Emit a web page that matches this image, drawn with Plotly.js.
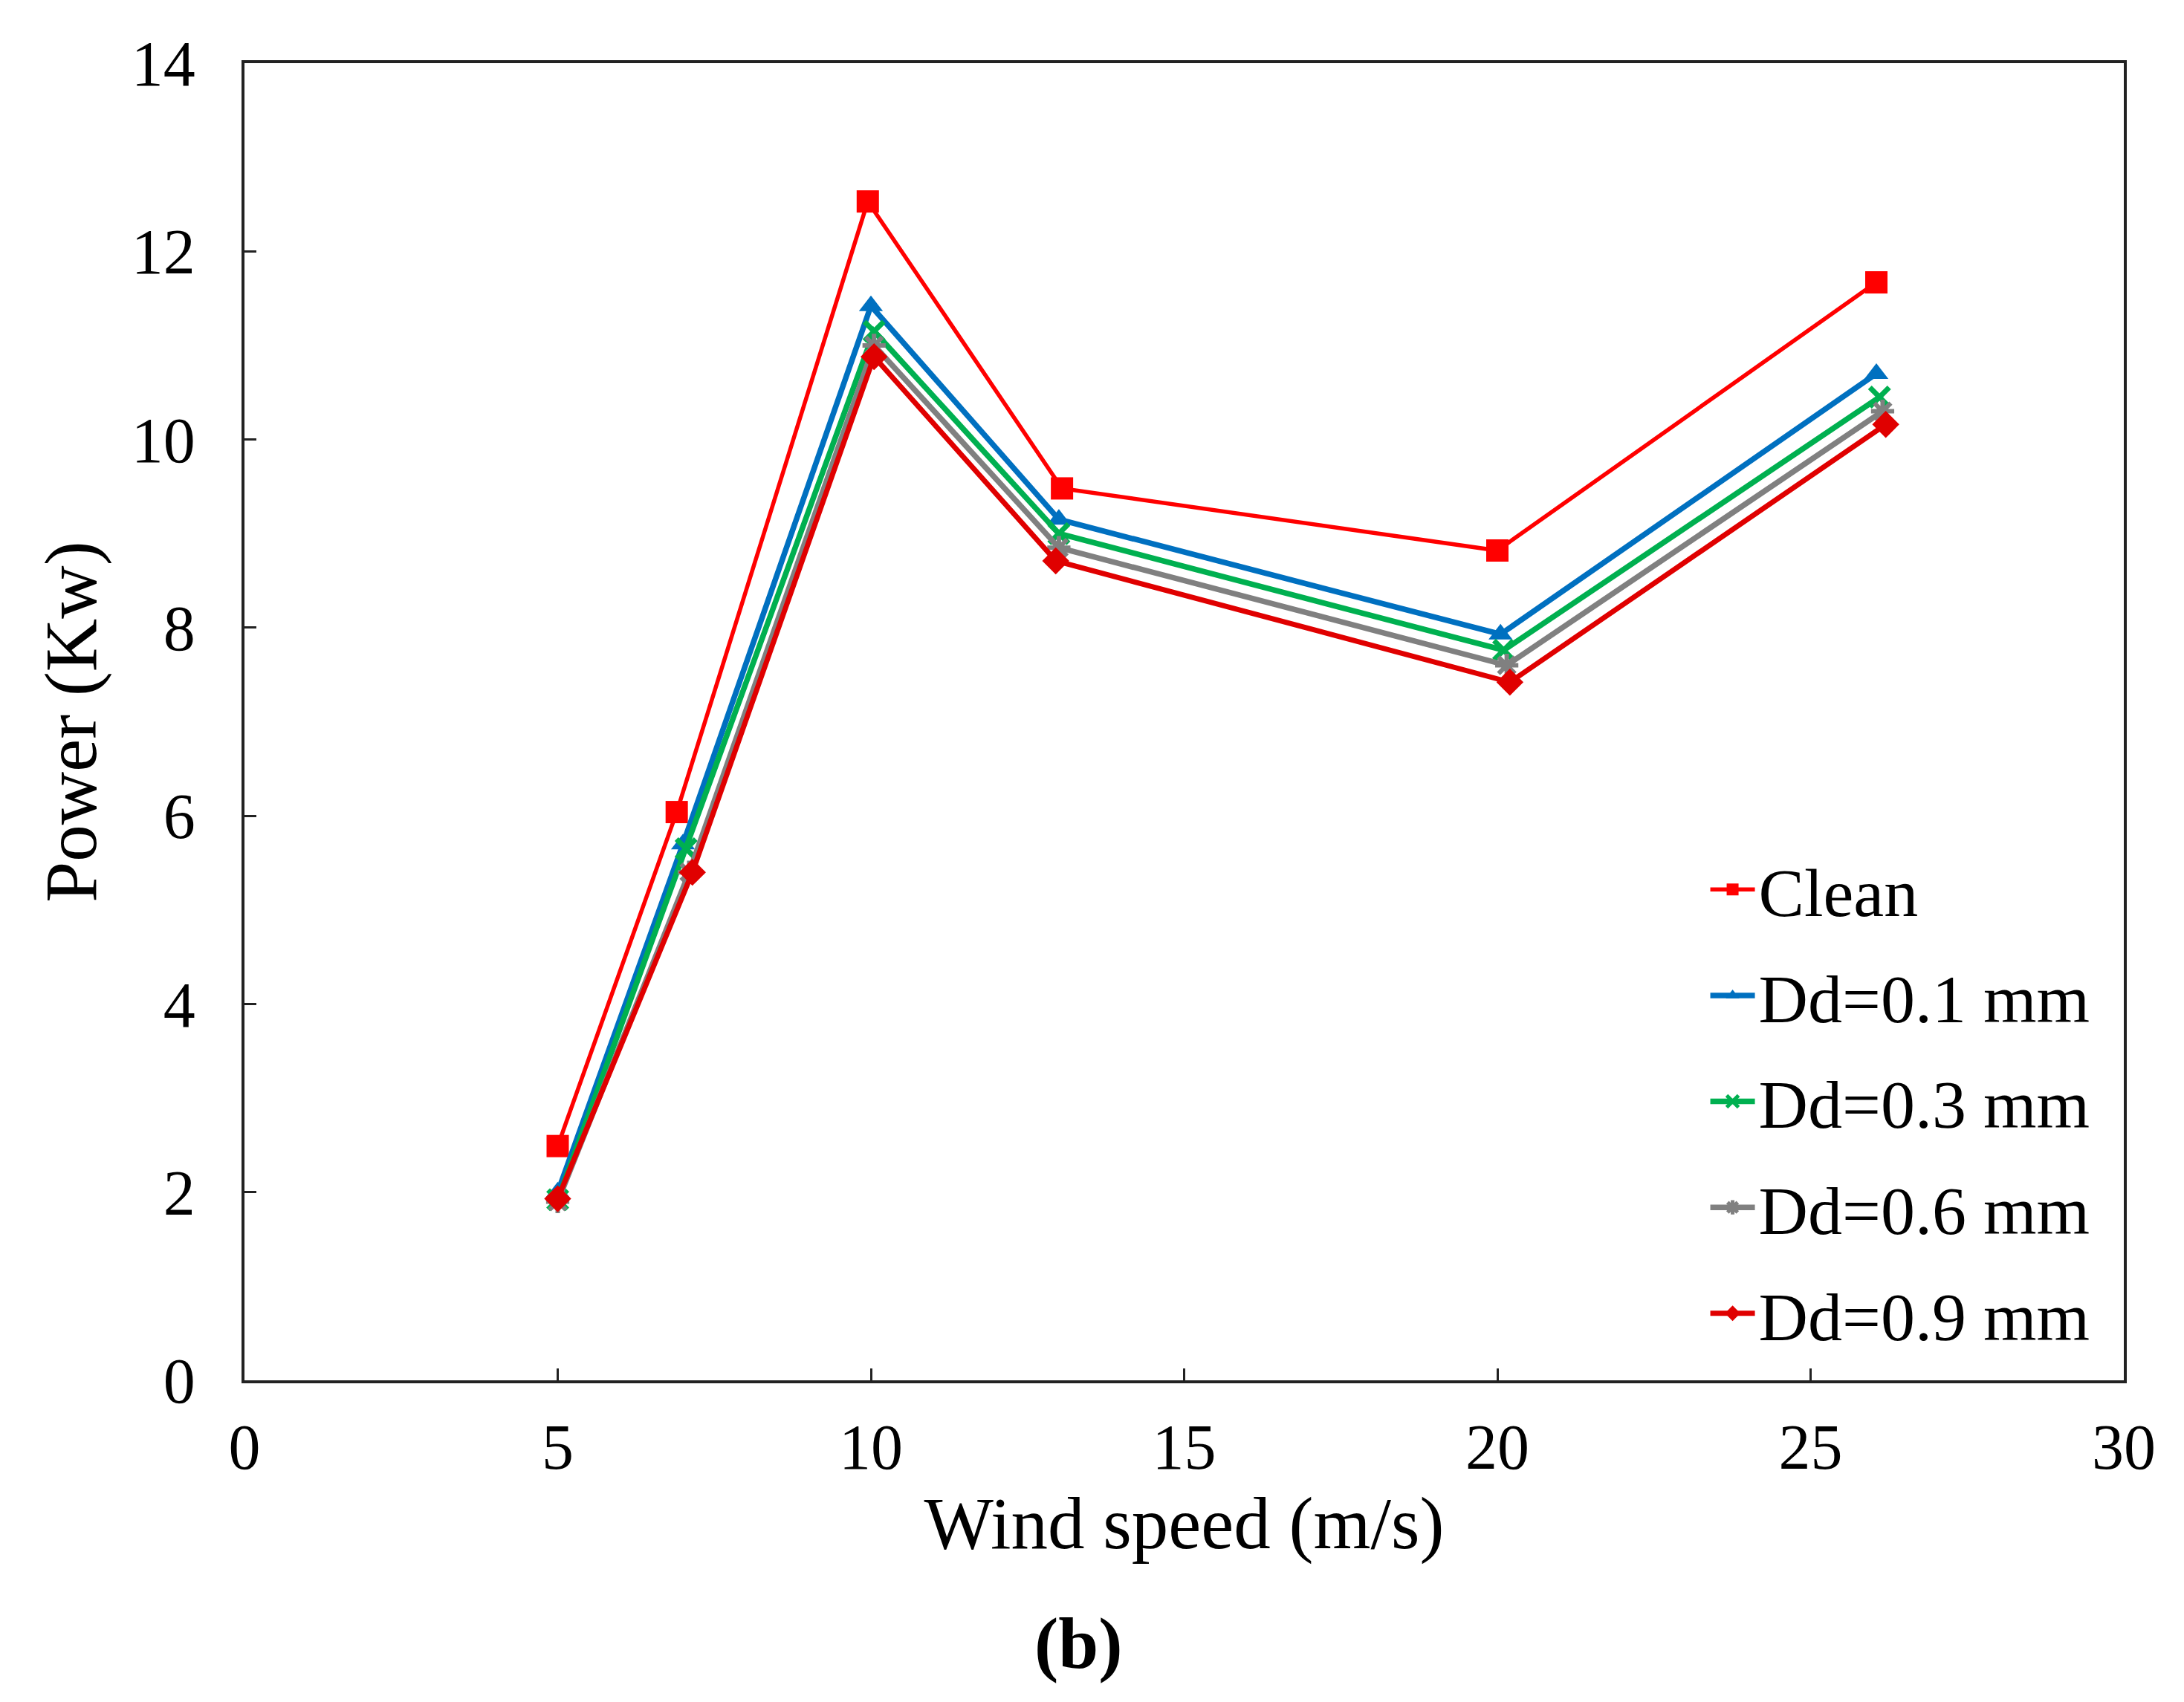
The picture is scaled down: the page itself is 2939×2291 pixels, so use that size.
<!DOCTYPE html>
<html>
<head>
<meta charset="utf-8">
<script src="https://cdn.plot.ly/plotly-3.0.1.min.js"></script>
<style>html,body{margin:0;padding:0;background:#fff;}#chart{width:2939px;height:2291px;}</style>
</head>
<body>
<div id="chart"></div>
<script>
// Series names
const seriesNames = ["Clean", "Dd=0.1 mm", "Dd=0.3 mm", "Dd=0.6 mm", "Dd=0.9 mm"];

// Wind speed (m/s) as read for each series
const xClean = [5, 6.9, 9.95, 13.05, 20.0, 26.05];
const xDd01  = [5, 7.0, 10.0, 13.0, 20.05, 26.05];
const xDd03  = [5, 7.05, 10.05, 13.0, 20.1, 26.1];
const xDd06  = [5, 7.1, 10.05, 13.0, 20.15, 26.15];
const xDd09  = [5, 7.15, 10.05, 12.95, 20.2, 26.2];

// Power (Kw)
const yClean = [2.49, 6.04, 12.53, 9.48, 8.82, 11.67];
const yDd01  = [2.0, 5.7, 11.42, 9.15, 7.93, 10.7];
const yDd03  = [1.92, 5.65, 11.15, 9.0, 7.76, 10.45];
const yDd06  = [1.9, 5.4, 11.0, 8.85, 7.6, 10.3];
const yDd09  = [1.93, 5.4, 10.88, 8.71, 7.42, 10.16];

// Tick values
const xTicks = [0, 5, 10, 15, 20, 25, 30];
const yTicks = [0, 2, 4, 6, 8, 10, 12, 14];

const FONT = "Liberation Serif, Times New Roman, serif";

function tr(name, x, y, color, lw, sym, size, mline, grp) {
  return {
    type: "scatter", mode: "lines+markers", name: name, x: x, y: y,
    legendgroup: grp,
    line: {color: color, width: lw},
    marker: {symbol: sym, size: size, color: color,
             line: {color: color, width: mline}}
  };
}

const data = [
  tr(seriesNames[0], xClean, yClean, "#FF0000", 5.5, "square", 30, 0, "g1"),
  tr(seriesNames[1], xDd01, yDd01, "#0070C0", 7.5, "triangle-up", 28, 0, "g2"),
  tr(seriesNames[2], xDd03, yDd03, "#00B050", 7.5, "x-thin-open", 26, 7, "g3"),
  tr(seriesNames[3], xDd06, yDd06, "#808080", 7.5, "asterisk-open", 26, 6, "g4"),
  tr(seriesNames[4], xDd09, yDd09, "#E00000", 7, "diamond", 28, 0, "g5")
];

const axisCommon = {
  showgrid: false, zeroline: false,
  showline: true, linecolor: "#222", linewidth: 4, mirror: true,
  ticks: "inside", ticklen: 16, tickwidth: 3, tickcolor: "#222",
  tickfont: {family: FONT, size: 86, color: "#000"}
};

const layout = {
  width: 2939, height: 2291,
  paper_bgcolor: "#fff", plot_bgcolor: "#fff",
  margin: {l: 329, r: 81, t: 85, b: 433},
  showlegend: true,
  legend: {
    x: 0.778, y: 0.41, xanchor: "left", yanchor: "top",
    font: {family: FONT, size: 92, color: "#000"},
    bgcolor: "rgba(255,255,255,0)", tracegroupgap: 20,
    itemwidth: 60
  },
  xaxis: Object.assign({}, axisCommon, {
    range: [0, 30], tickvals: xTicks, ticklabelstandoff: 12,
    title: {text: "Wind speed (m/s)", font: {family: FONT, size: 99, color: "#000"}, standoff: 0}
  }),
  yaxis: Object.assign({}, axisCommon, {
    range: [0, 14], tickvals: yTicks, ticklabelstandoff: 45,
    title: {text: "Power (Kw)", font: {family: FONT, size: 99, color: "#000"}, standoff: 15}
  }),
  annotations: [{
    text: "<b>(b)</b>", xref: "paper", yref: "paper",
    x: 0.444, y: -0.2, xanchor: "center", yanchor: "middle",
    showarrow: false, font: {family: FONT, size: 97, color: "#000"}
  }]
};

Plotly.newPlot("chart", data, layout, {displayModeBar: false, staticPlot: true});
</script>
</body>
</html>
